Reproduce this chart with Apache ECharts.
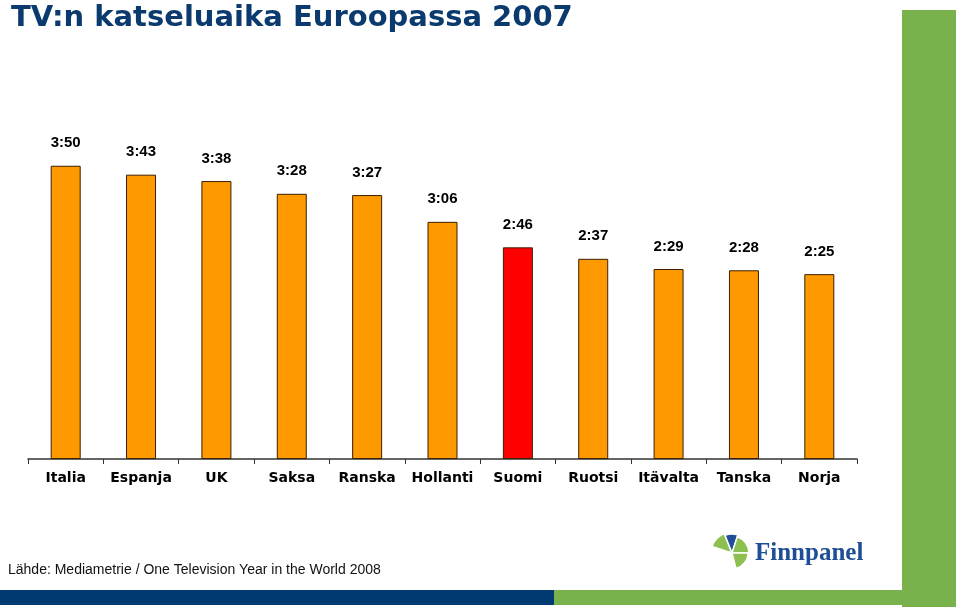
<!DOCTYPE html>
<html><head><meta charset="utf-8">
<script src="https://cdn.jsdelivr.net/npm/echarts@6/dist/echarts.min.js"></script>
<style>html,body{margin:0;padding:0;background:#fff}#c{width:960px;height:607px}</style>
</head><body><div id="c"></div>
<script>
var categories = ['Italia','Espanja','UK','Saksa','Ranska','Hollanti','Suomi','Ruotsi','Itävalta','Tanska','Norja'];
// viewing time in minutes per day
var minutes = [230, 223, 218, 208, 207, 186, 166, 157, 149, 148, 145];
var highlight = 'Suomi';

function fmt(m){ var h = Math.floor(m/60), r = m%60; return h + ':' + (r<10?'0':'') + r; }

var chart = echarts.init(document.getElementById('c'), null, {renderer:'canvas'});
var data = minutes.map(function(v,i){
  return {value:v, itemStyle:{color: categories[i]===highlight ? '#ff0000' : '#ff9900'}};
});
var P = Math.PI, cx = 732, cy = 553;
chart.setOption({
  animation:false,
  backgroundColor:'#ffffff',
  title:{text:'TV:n katseluaika Euroopassa 2007', left:6, top:-1,
    textStyle:{fontFamily:'DejaVu Sans', fontWeight:'bold', fontSize:29, color:'#0b3a6e'}},
  grid:{left:28, right:103, top:153, bottom:148, containLabel:false},
  xAxis:{type:'category', data:categories,
    axisLine:{lineStyle:{color:'#333', width:1.5}},
    axisTick:{show:true, length:5, lineStyle:{color:'#333'}},
    axisLabel:{interval:0, margin:12, color:'#000', fontFamily:'DejaVu Sans', fontWeight:'bold', fontSize:14}},
  yAxis:{type:'value', min:0, max:240, show:false, splitLine:{show:false}},
  series:[{type:'bar', data:data, barWidth:30,
    itemStyle:{borderColor:'#3a1f00', borderWidth:1},
    label:{show:true, position:'top', distance:15, color:'#000',
      fontFamily:'Liberation Sans', fontWeight:'bold', fontSize:15,
      formatter:function(p){return fmt(p.value);}}}],
  graphic:[
    {type:'rect', shape:{x:902,y:10,width:54,height:597}, style:{fill:'#79b24d'}, z:0},
    {type:'rect', shape:{x:0,y:590,width:554,height:15}, style:{fill:'#003a70'}},
    {type:'rect', shape:{x:554,y:590,width:400,height:15}, style:{fill:'#79b24d'}},
    {type:'text', left:8, top:563, style:{text:'Lähde: Mediametrie / One Television Year in the World 2008',
      font:'14px "Liberation Sans"', fill:'#111'}},
    {type:'sector', shape:{cx:cx, cy:cy, r0:0, r:21, startAngle:P*1.1, endAngle:P*1.38}, style:{fill:'#8cc152', stroke:'#fff', lineWidth:1.5}},
    {type:'sector', shape:{cx:cx, cy:cy, r0:0, r:19, startAngle:P*1.38, endAngle:P*1.6}, style:{fill:'#1f4e96', stroke:'#fff', lineWidth:1.5}},
    {type:'sector', shape:{cx:cx, cy:cy, r0:0, r:17, startAngle:P*1.6, endAngle:P*2.0}, style:{fill:'#8cc152', stroke:'#fff', lineWidth:1.5}},
    {type:'sector', shape:{cx:cx, cy:cy, r0:0, r:16, startAngle:P*2.0, endAngle:P*2.42}, style:{fill:'#8cc152', stroke:'#fff', lineWidth:1.5}},
    {type:'text', left:755, top:541, style:{text:'Finnpanel', font:'bold 25px "Liberation Serif"', fill:'#1f4e96'}}
  ]
});
</script></body></html>
